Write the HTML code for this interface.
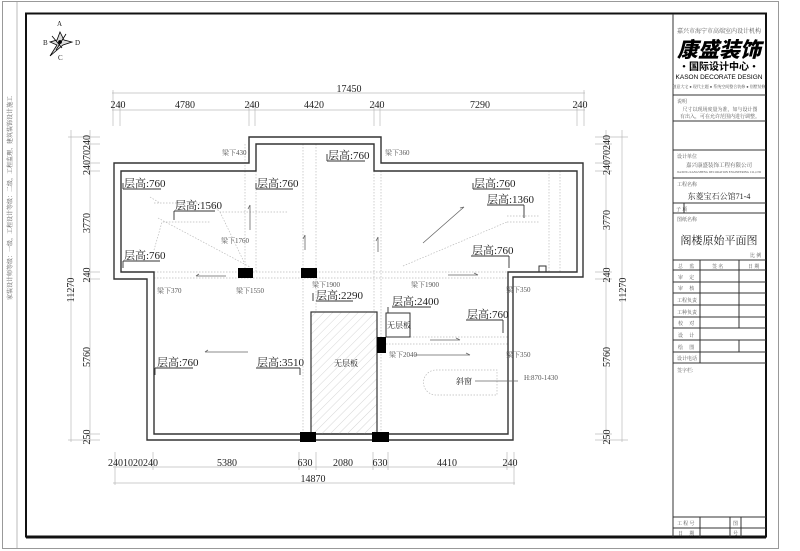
<!DOCTYPE html>
<html><head><meta charset="utf-8"><style>
html,body{margin:0;padding:0;background:#fff;}
svg{display:block;}
.t{font-family:"Liberation Serif","Noto Serif CJK SC",serif;fill:#222;}
.s{font-family:"Liberation Serif","Noto Serif CJK SC",serif;fill:#555;}
</style></head><body>
<svg width="800" height="551" viewBox="0 0 800 551" xmlns="http://www.w3.org/2000/svg">
<!-- outer thin border -->
<rect x="2.5" y="1.5" width="776" height="547" fill="none" stroke="#999" stroke-width="1"/>
<line x1="17" y1="2" x2="17" y2="548" stroke="#bbb" stroke-width="1"/>
<text class="s" font-size="6" transform="translate(12,300) rotate(-90)">家装设计师等级：一级，工程设计等级：二级，工程监理、建筑装饰设计施工</text>
<!-- main frame -->
<rect x="26" y="13.5" width="740" height="523" fill="none" stroke="#111" stroke-width="2"/>
<line x1="26" y1="537" x2="766" y2="537" stroke="#111" stroke-width="3"/>

<!-- title block -->
<g stroke="#333" stroke-width="1" fill="none">
<line x1="673" y1="14" x2="673" y2="537"/>
<line x1="673" y1="95" x2="766" y2="95"/>
<line x1="673" y1="121" x2="766" y2="121"/>
<line x1="673" y1="150" x2="766" y2="150"/>
<line x1="673" y1="178" x2="766" y2="178"/>
<line x1="673" y1="203" x2="766" y2="203"/>
<line x1="673" y1="213" x2="766" y2="213"/>
<line x1="673" y1="260" x2="766" y2="260"/>
<line x1="673" y1="270" x2="766" y2="270"/>
<line x1="673" y1="282" x2="766" y2="282"/>
<line x1="673" y1="293" x2="766" y2="293"/>
<line x1="673" y1="305" x2="766" y2="305"/>
<line x1="673" y1="317" x2="766" y2="317"/>
<line x1="673" y1="328" x2="766" y2="328"/>
<line x1="673" y1="340" x2="766" y2="340"/>
<line x1="673" y1="352" x2="766" y2="352"/>
<line x1="673" y1="363" x2="766" y2="363"/>
<line x1="673" y1="517" x2="766" y2="517"/>
<line x1="673" y1="528" x2="766" y2="528"/>
<line x1="700" y1="260" x2="700" y2="363"/>
<line x1="739" y1="260" x2="739" y2="328"/>
<line x1="739" y1="340" x2="739" y2="352"/>
<line x1="684" y1="203" x2="684" y2="213"/>
<line x1="700" y1="517" x2="700" y2="537"/>
<line x1="730" y1="517" x2="730" y2="537"/>
<line x1="741" y1="517" x2="741" y2="537"/>
</g>
<text class="s" font-size="6" x="719" y="33" text-anchor="middle">嘉兴市海宁市高端室内设计机构</text>
<text x="719" y="57" text-anchor="middle" font-family="'Noto Sans CJK SC',sans-serif" font-weight="900" font-style="italic" font-size="21" fill="#000">康盛装饰</text>
<text x="719" y="70" text-anchor="middle" font-family="'Noto Sans CJK SC',sans-serif" font-weight="700" font-size="10" fill="#000">·国际设计中心·</text>
<text x="719" y="79" text-anchor="middle" font-family="'Liberation Sans',sans-serif" font-size="6.5" fill="#000">KASON DECORATE DESIGN</text>
<text class="s" font-size="4" x="719" y="88" text-anchor="middle">创意大宅 ● 现代主题 ● 系统空间整合装修 ● 别墅装修</text>
<text class="s" font-size="5" x="677" y="103">说明</text>
<text class="s" font-size="5" x="720" y="111" text-anchor="middle">尺寸以现场度量为准，如与设计图</text>
<text class="s" font-size="5" x="720" y="118" text-anchor="middle">有出入，可在允许范围内进行调整。</text>
<text class="s" font-size="5" x="677" y="158">设计单位</text>
<text class="s" font-size="5.5" x="719" y="167" text-anchor="middle">嘉兴康盛装饰工程有限公司</text>
<text class="s" font-size="3" x="719" y="173" text-anchor="middle">JIAXING KANGSHENG DECORATION ENGINEERING CO.,LTD</text>
<text class="s" font-size="5" x="677" y="186">工程名称</text>
<text class="t" font-size="8" x="719" y="199" text-anchor="middle">东菱宝石公馆71-4</text>
<text class="s" font-size="5" x="676" y="211">子 项</text>
<text class="s" font-size="5" x="677" y="221">图纸名称</text>
<text class="t" font-size="11" x="719" y="244" text-anchor="middle">阁楼原始平面图</text>
<text class="s" font-size="5" x="750" y="257">比 例</text>
<g class="s" font-size="5">
<text x="678" y="268">总 　监</text><text x="712" y="268">签 名</text><text x="748" y="268">日 期</text>
<text x="678" y="279">审 　定</text>
<text x="678" y="290">审 　核</text>
<text x="677" y="302">工程负责</text>
<text x="677" y="314">工种负责</text>
<text x="678" y="325">校 　对</text>
<text x="678" y="337">设 　计</text>
<text x="678" y="349">绘 　图</text>
<text x="677" y="360">设计电话</text>
<text x="677" y="372">签字栏:</text>
<text x="677" y="525">工 程 号</text>
<text x="678" y="535">日 　期</text>
<text x="733" y="525">图</text><text x="733" y="535">号</text>
</g>

<!-- compass -->
<g transform="translate(60,42)" stroke="#000" stroke-width="0.8" fill="none">
<path d="M0,-10 L4,-2 L12,0 L3,3 L-10,14 L-3,3 L-10,0 L-3,-2 Z" fill="#ddd"/>
<path d="M-8,-6 L2,6 M6,-8 L-4,8" />
<circle cx="0" cy="0" r="1.5" fill="#000"/>
</g>
<text class="t" font-size="7" x="57" y="26">A</text>
<text class="t" font-size="7" x="43" y="45">B</text>
<text class="t" font-size="7" x="75" y="45">D</text>
<text class="t" font-size="7" x="58" y="60">C</text>

<!-- dimension lines -->
<g stroke="#bbb" stroke-width="0.7">
<line x1="112" y1="93" x2="585" y2="93"/>
<line x1="112" y1="110" x2="585" y2="110"/>
<g>
<line x1="113" y1="90" x2="113" y2="126"/><line x1="120" y1="102" x2="120" y2="126"/>
<line x1="249" y1="102" x2="249" y2="126"/><line x1="255" y1="102" x2="255" y2="126"/>
<line x1="374" y1="102" x2="374" y2="126"/><line x1="380" y1="102" x2="380" y2="126"/>
<line x1="577" y1="102" x2="577" y2="126"/><line x1="584" y1="90" x2="584" y2="126"/>
</g>
<line x1="113" y1="467" x2="515" y2="467"/>
<line x1="113" y1="483" x2="515" y2="483"/>
<line x1="115" y1="452" x2="115" y2="485"/><line x1="153" y1="452" x2="153" y2="470"/>
<line x1="299" y1="452" x2="299" y2="470"/><line x1="316" y1="452" x2="316" y2="470"/>
<line x1="373" y1="452" x2="373" y2="470"/><line x1="388" y1="452" x2="388" y2="470"/>
<line x1="507" y1="452" x2="507" y2="470"/><line x1="514" y1="452" x2="514" y2="485"/>
<line x1="71" y1="130" x2="71" y2="442"/><line x1="90" y1="130" x2="90" y2="442"/>
<line x1="606" y1="130" x2="606" y2="442"/><line x1="622" y1="130" x2="622" y2="442"/>
<g>
<line x1="68" y1="137" x2="100" y2="137"/><line x1="85" y1="144" x2="100" y2="144"/>
<line x1="85" y1="163" x2="100" y2="163"/><line x1="85" y1="171" x2="100" y2="171"/>
<line x1="85" y1="272" x2="100" y2="272"/><line x1="85" y1="279" x2="100" y2="279"/>
<line x1="85" y1="434" x2="100" y2="434"/><line x1="68" y1="440" x2="100" y2="440"/>
<line x1="595" y1="137" x2="628" y2="137"/><line x1="595" y1="144" x2="612" y2="144"/>
<line x1="595" y1="163" x2="612" y2="163"/><line x1="595" y1="171" x2="612" y2="171"/>
<line x1="595" y1="272" x2="612" y2="272"/><line x1="595" y1="279" x2="612" y2="279"/>
<line x1="595" y1="434" x2="612" y2="434"/><line x1="595" y1="440" x2="628" y2="440"/>
</g>
</g>
<g class="t" font-size="10" text-anchor="middle">
<text x="349" y="92">17450</text>
<text x="118" y="108">240</text><text x="185" y="108">4780</text><text x="252" y="108">240</text>
<text x="314" y="108">4420</text><text x="377" y="108">240</text><text x="480" y="108">7290</text><text x="580" y="108">240</text>
<text x="133" y="466">2401020240</text><text x="227" y="466">5380</text><text x="305" y="466">630</text>
<text x="343" y="466">2080</text><text x="380" y="466">630</text><text x="447" y="466">4410</text><text x="510" y="466">240</text>
<text x="313" y="482">14870</text>
</g>
<g class="t" font-size="10" text-anchor="middle">
<text transform="translate(90,155) rotate(-90)">24070240</text>
<text transform="translate(90,223) rotate(-90)">3770</text>
<text transform="translate(90,275) rotate(-90)">240</text>
<text transform="translate(90,357) rotate(-90)">5760</text>
<text transform="translate(90,437) rotate(-90)">250</text>
<text transform="translate(74,290) rotate(-90)">11270</text>
<text transform="translate(610,155) rotate(-90)">24070240</text>
<text transform="translate(610,220) rotate(-90)">3770</text>
<text transform="translate(610,275) rotate(-90)">240</text>
<text transform="translate(610,357) rotate(-90)">5760</text>
<text transform="translate(610,437) rotate(-90)">250</text>
<text transform="translate(626,290) rotate(-90)">11270</text>
</g>

<!-- dotted beam lines -->
<g stroke="#bbb" stroke-width="0.7" stroke-dasharray="1.5,1.5" fill="none">
<line x1="245" y1="144" x2="245" y2="272"/><line x1="256" y1="144" x2="256" y2="272"/>
<line x1="303" y1="144" x2="303" y2="434"/><line x1="316" y1="144" x2="316" y2="312"/>
<line x1="374" y1="171" x2="374" y2="312"/><line x1="381" y1="171" x2="381" y2="434"/>
<line x1="549" y1="171" x2="549" y2="272"/><line x1="560" y1="171" x2="560" y2="272"/>
<line x1="154" y1="272" x2="508" y2="272"/><line x1="154" y1="278" x2="508" y2="278"/>
<line x1="386" y1="337" x2="508" y2="337"/><line x1="386" y1="344" x2="508" y2="344"/>
<path d="M154,203 L210,203 L220,212 L288,212 M150,197 L160,203 M154,250 L162,222 L210,222 M220,212 L244,262"/>
<line x1="158" y1="218" x2="250" y2="267"/>
<path d="M507,216 L540,216 M507,222 L540,222 M403,266 L507,222"/>
<path d="M436,370 L497,370 L497,395 L436,395 A12.5,12.5 0 0 1 436,370 Z"/>
</g>

<!-- walls -->
<g stroke="#333" stroke-width="1.4" fill="none">
<path d="M114,163 L249,163 L249,137 L381,137 L381,163 L583,163 L583,277 L513,277 L513,440 L147,440 L147,279 L114,279 Z"/>
<path d="M121,171 L256,171 L256,144 L374,144 L374,171 L577,171 L577,272 L508,272 L508,434 L154,434 L154,272 L121,272 Z"/>
</g>
<path d="M539,272 L539,266 L546,266 L546,272" stroke="#333" stroke-width="1" fill="none"/>

<!-- hatched area -->
<defs><pattern id="h" width="6" height="6" patternUnits="userSpaceOnUse" patternTransform="rotate(45)"><line x1="0" y1="0" x2="0" y2="6" stroke="#ccc" stroke-width="0.8"/></pattern></defs>
<rect x="311" y="312" width="66" height="122" fill="url(#h)" stroke="#333" stroke-width="1.2"/>
<rect x="386" y="313" width="24" height="24" fill="#fff" stroke="#333" stroke-width="1"/>

<!-- columns -->
<g fill="#000">
<rect x="238" y="268" width="15" height="10"/>
<rect x="301" y="268" width="16" height="10"/>
<rect x="377" y="337" width="9" height="16"/>
<rect x="300" y="432" width="16" height="10"/>
<rect x="372" y="432" width="17" height="10"/>
</g>

<!-- arrows -->
<g stroke="#666" stroke-width="0.8" fill="none">
<path d="M250,230 L250,205 M248,209 L250,205"/>
<path d="M305,250 L305,235 M303,239 L305,235"/>
<path d="M378,252 L378,237 M376,241 L378,237"/>
<path d="M226,276 L196,276 M199,274 L196,276"/>
<path d="M248,352 L205,352 M208,350 L205,352"/>
<path d="M423,243 L464,207 M460,208 L464,207"/>
<path d="M448,275 L478,275 M474,273 L478,275"/>
<path d="M430,340 L460,340 M456,338 L460,340"/>
<path d="M415,355 L470,355 M466,353 L470,355"/>
<path d="M475,381 L518,381"/>
</g>

<!-- labels with leaders -->
<g stroke="#333" stroke-width="0.9" fill="none">
<path d="M123,189 L161,189 M123,183 L123,189"/>
<path d="M256,189 L293,189 M256,183 L256,189"/>
<path d="M327,161 L365,161 M327,154 L327,161"/>
<path d="M174,211 L215,211 M174,211 L174,220"/>
<path d="M123,261 L160,261 M123,261 L123,268"/>
<path d="M473,189 L510,189 M473,183 L473,189"/>
<path d="M487,205 L524,205 M524,205 L524,218"/>
<path d="M471,256 L509,256 M509,256 L509,268"/>
<path d="M316,301 L353,301 M313,293 L313,301"/>
<path d="M392,307 L431,307 M388,307 L388,313"/>
<path d="M466,320 L503,320 M503,320 L503,333"/>
<path d="M155,368 L193,368 M155,368 L155,375"/>
<path d="M256,368 L300,368 M300,368 L300,375"/>
</g>
<g class="t" font-size="11">
<text x="124" y="187">层高:760</text>
<text x="257" y="187">层高:760</text>
<text x="328" y="159">层高:760</text>
<text x="175" y="209">层高:1560</text>
<text x="124" y="259">层高:760</text>
<text x="474" y="187">层高:760</text>
<text x="487" y="203">层高:1360</text>
<text x="472" y="254">层高:760</text>
<text x="316" y="299">层高:2290</text>
<text x="392" y="305">层高:2400</text>
<text x="467" y="318">层高:760</text>
<text x="157" y="366">层高:760</text>
<text x="257" y="366">层高:3510</text>
</g>
<g class="s" font-size="7">
<text x="222" y="155">梁下430</text>
<text x="385" y="155">梁下360</text>
<text x="221" y="243">梁下1760</text>
<text x="157" y="293">梁下370</text>
<text x="236" y="293">梁下1550</text>
<text x="312" y="287">梁下1900</text>
<text x="411" y="287">梁下1900</text>
<text x="506" y="292">梁下350</text>
<text x="389" y="357">梁下2040</text>
<text x="506" y="357">梁下350</text>
<text x="524" y="380">H:870-1430</text>
</g>
<g class="t" font-size="8">
<text x="456" y="384">斜窗</text>
<text x="334" y="366">无层板</text>
<text x="387" y="328">无层板</text>
</g>
</svg>
</body></html>
